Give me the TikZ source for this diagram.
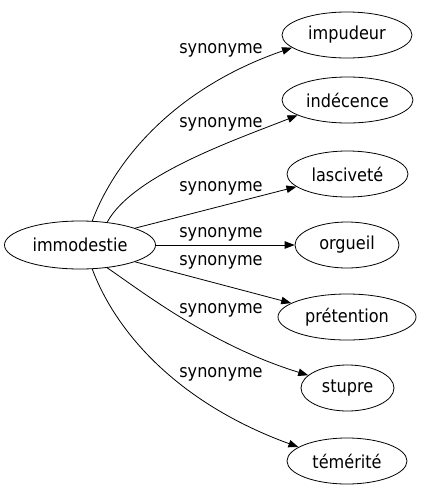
\documentclass[tikz,border=0pt]{standalone}
\usepackage{fontspec}
\setmainfont{DejaVu Sans Condensed}
\usetikzlibrary{arrows.meta,shapes.geometric}
\begin{document}
\begin{tikzpicture}[x=1pt,y=-1pt,
  every node/.style={font=\fontsize{17.9}{20}\selectfont},
  wnode/.style={draw,ellipse,inner sep=0pt,minimum height=46pt,line width=0.8pt},
  edge/.style={line width=0.8pt,-{Triangle[length=10pt,width=7.5pt]}},
  lbl/.style={inner sep=0pt}]
\useasboundingbox (0,0) rectangle (421,491);
\node[wnode,minimum width=151pt,minimum height=48pt] (src) at (80,245) {immodestie};
\node[wnode,minimum width=130pt] (t1) at (347,35) {impudeur};
\node[wnode,minimum width=131pt] (t2) at (347.5,100) {indécence};
\node[wnode,minimum width=121pt] (t3) at (347.5,174) {lasciveté};
\node[wnode,minimum width=104pt] (t4) at (347,245) {orgueil};
\node[wnode,minimum width=138pt] (t5) at (347,317) {prétention};
\node[wnode,minimum width=93pt] (t6) at (347.5,388) {stupre};
\node[wnode,minimum width=120pt] (t7) at (347,461) {témérité};
\draw[edge] (src.63) .. controls (115,160) and (175,88) .. (t1.193);
\draw[edge] (src.40) .. controls (133,175) and (235,140) .. (t2.197);
\draw[edge] (src.17) -- (t3.194);
\draw[edge] (src.0) -- (t4.180);
\draw[edge] (src.-17) -- (t5.166);
\draw[edge] (src.-40) .. controls (140,290) and (210,345) .. (t6.162);
\draw[edge] (src.-63) .. controls (115,330) and (175,402) .. (t7.164);
\node[lbl] (l1) at (221,50) {synonyme};
\node[lbl] (l2) at (221,124) {synonyme};
\node[lbl] (l3) at (221,188) {synonyme};
\node[lbl] (l4) at (221,234) {synonyme};
\node[lbl] (l5) at (221,262) {synonyme};
\node[lbl] (l6) at (221,310) {synonyme};
\node[lbl] (l7) at (221,374) {synonyme};
\end{tikzpicture}
\end{document}
